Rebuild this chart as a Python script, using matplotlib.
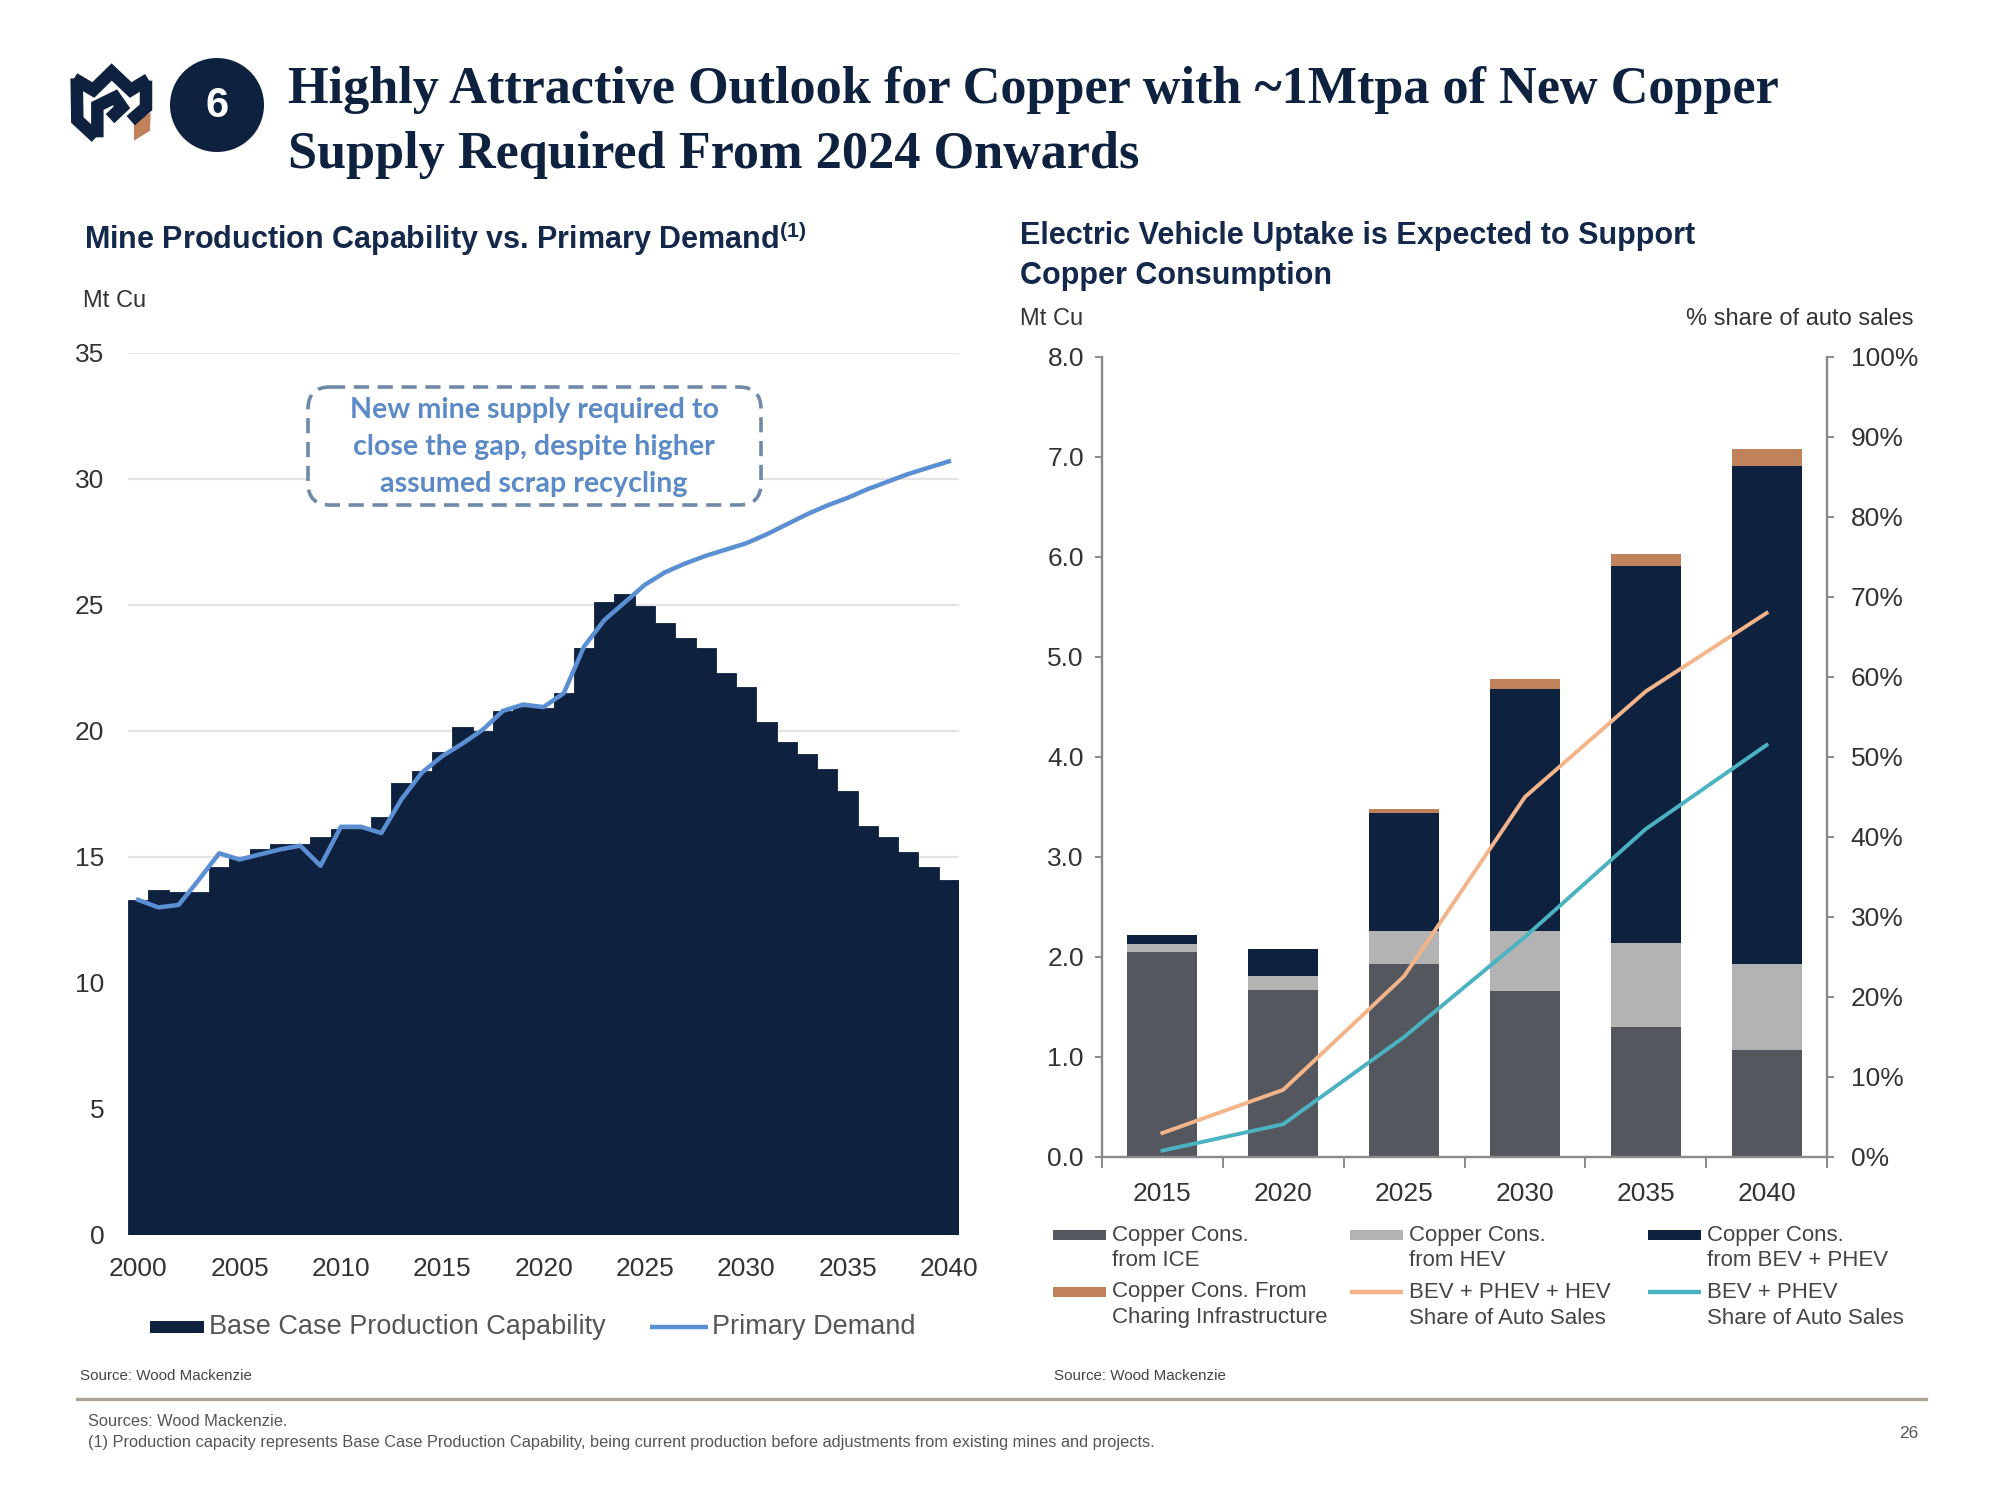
import numpy as np
import matplotlib
matplotlib.use("Agg")
import matplotlib.pyplot as plt
from matplotlib.patches import FancyBboxPatch, Rectangle, Circle, Polygon
from matplotlib.ticker import PercentFormatter, FixedLocator

plt.rcParams['font.family'] = ['Liberation Sans', 'DejaVu Sans']
plt.rcParams['mathtext.fontset'] = 'custom'
plt.rcParams['mathtext.rm'] = 'Liberation Sans'
plt.rcParams['mathtext.bf'] = 'Liberation Sans:bold'

# ---------------- data: left chart ----------------
years = list(range(2000, 2041))
capability = [13.3, 13.7, 13.6, 13.6, 14.6, 15.0, 15.3, 15.5, 15.5, 15.8,
              16.1, 16.1, 16.6, 17.95, 18.4, 19.15, 20.15, 20.0, 20.8, 20.95,
              20.9, 21.5, 23.3, 25.1, 25.45, 24.95, 24.3, 23.7, 23.3, 22.3,
              21.75, 20.35, 19.55, 19.1, 18.5, 17.6, 16.25, 15.8, 15.2, 14.6,
              14.1]
demand = [13.3, 13.0, 13.1, 14.1, 15.15, 14.9, 15.1, 15.3, 15.45, 14.65,
          16.2, 16.2, 15.95, 17.3, 18.35, 19.0, 19.5, 20.05, 20.8, 21.05,
          20.95, 21.5, 23.35, 24.4, 25.1, 25.8, 26.3, 26.65, 26.95, 27.2,
          27.45, 27.8, 28.2, 28.6, 28.95, 29.25, 29.6, 29.9, 30.2, 30.45,
          30.7]
left_yticks = [0, 5, 10, 15, 20, 25, 30, 35]
left_xticks = [2000, 2005, 2010, 2015, 2020, 2025, 2030, 2035, 2040]

# ---------------- data: right chart ----------------
ev_years = ['2015', '2020', '2025', '2030', '2035', '2040']
cons_ice = [2.05, 1.67, 1.93, 1.66, 1.30, 1.07]
cons_hev = [0.08, 0.14, 0.33, 0.60, 0.84, 0.86]
cons_bev = [0.09, 0.27, 1.18, 2.42, 3.77, 4.98]
cons_charging = [0.0, 0.0, 0.04, 0.10, 0.12, 0.17]
share_bev_phev_hev = [0.03, 0.084, 0.226, 0.45, 0.582, 0.68]
share_bev_phev = [0.008, 0.041, 0.15, 0.275, 0.41, 0.515]

NAVY = '#0e2240'
BLUE = '#5b8fd4'
DGREY = '#54585e'
LGREY = '#b3b3b3'
COPPER = '#c0825a'
PEACH = '#f3b48a'
TEAL = '#4bb2c2'
TXT = '#333333'
SPINE = '#8a8a8a'

fig = plt.figure(figsize=(20, 15), dpi=100)
fig.patch.set_facecolor('white')

def px2fig(x0, y0, x1, y1):
    return [x0 / 2000, 1 - y1 / 1500, (x1 - x0) / 2000, (y1 - y0) / 1500]

# ---------------- left chart ----------------
axL = fig.add_axes(px2fig(128, 353, 959, 1235))
axL.bar(years, capability, width=1.0, color=NAVY, edgecolor=NAVY,
        linewidth=0.6, zorder=2)
axL.plot(years, demand, color=BLUE, lw=3.2, zorder=3, solid_joinstyle='round')
axL.set_xlim(1999.5, 2040.5)
axL.set_ylim(0, 35)
axL.set_yticks(left_yticks)
axL.set_xticks(left_xticks)
axL.grid(axis='y', color='#e4e4e4', lw=1.6)
axL.set_axisbelow(True)
for s in axL.spines.values():
    s.set_visible(False)
axL.tick_params(axis='y', length=0, pad=17, labelsize=19, labelcolor=TXT)
axL.tick_params(axis='x', length=0, pad=16, labelsize=19, labelcolor=TXT)

# ---------------- right chart ----------------
axR = fig.add_axes(px2fig(1102, 357, 1827, 1157))
x = np.arange(len(ev_years))
w = 0.58
b1 = np.array(cons_ice)
b2 = b1 + np.array(cons_hev)
b3 = b2 + np.array(cons_bev)
axR.bar(x, cons_ice, w, color=DGREY, linewidth=0, zorder=2)
axR.bar(x, cons_hev, w, bottom=b1, color=LGREY, linewidth=0, zorder=2)
axR.bar(x, cons_bev, w, bottom=b2, color=NAVY, linewidth=0, zorder=2)
axR.bar(x, cons_charging, w, bottom=b3, color=COPPER, linewidth=0, zorder=2)
axR.set_xlim(-0.5, len(ev_years) - 0.5)
axR.set_ylim(0, 8)
axR.set_yticks(np.arange(0, 9, 1))
axR.yaxis.set_major_formatter(matplotlib.ticker.FormatStrFormatter('%.1f'))
axR.set_xticks(x)
axR.set_xticklabels(ev_years)
axR.xaxis.set_minor_locator(FixedLocator(np.arange(-0.5, len(ev_years), 1)))
axR.spines['top'].set_visible(False)
for s in ['left', 'right', 'bottom']:
    axR.spines[s].set_color(SPINE)
    axR.spines[s].set_linewidth(1.6)
axR.tick_params(axis='y', direction='out', length=5, width=1.4, color=SPINE,
                pad=8, labelsize=19, labelcolor=TXT)
axR.tick_params(axis='x', which='major', length=0, pad=18, labelsize=19,
                labelcolor=TXT)
axR.tick_params(axis='x', which='minor', direction='out', length=8, width=1.4,
                color=SPINE)

axR2 = axR.twinx()
axR2.plot(x, share_bev_phev_hev, color=PEACH, lw=2.8, zorder=3)
axR2.plot(x, share_bev_phev, color=TEAL, lw=2.8, zorder=3)
axR2.set_ylim(0, 1)
axR2.set_yticks(np.arange(0, 1.01, 0.1))
axR2.yaxis.set_major_formatter(PercentFormatter(1.0, decimals=0))
axR2.spines['top'].set_visible(False)
for s in ['left', 'right', 'bottom']:
    axR2.spines[s].set_color(SPINE)
    axR2.spines[s].set_linewidth(1.6)
axR2.tick_params(axis='y', direction='out', length=5, width=1.4, color=SPINE,
                 pad=12, labelsize=19, labelcolor=TXT)

# ---------------- overlay for decorations ----------------
ov = fig.add_axes([0, 0, 1, 1], zorder=10)
ov.set_xlim(0, 2000)
ov.set_ylim(1500, 0)
ov.axis('off')

# logo (decorative)
def lz(pts):
    return [(60 + a / 3.0, 50 + b / 3.0) for a, b in pts]

for pts in [
    [(50, 85), (52, 210), (108, 262)],
    [(42, 86), (100, 120), (155, 66), (212, 120), (265, 88)],
    [(258, 92), (258, 172), (212, 212)],
    [(112, 262), (112, 168), (165, 142), (186, 172), (150, 206)],
]:
    xs, ys = zip(*lz(pts))
    ov.plot(xs, ys, color=NAVY, lw=9, solid_capstyle='butt',
            solid_joinstyle='miter')
ov.add_patch(Polygon(lz([(222, 218), (272, 188), (270, 242), (222, 272)]),
                     closed=True, color=COPPER, lw=0))

ov.add_patch(Circle((217, 105), 47, color=NAVY, lw=0))
ov.text(217, 106, '6', ha='center', va='center', color='white',
        fontsize=30, fontweight='bold')

# title
title_kw = dict(fontsize=37.6, fontweight='bold', color=NAVY,
                family=['Liberation Serif', 'DejaVu Serif'])
ov.text(288, 103, 'Highly Attractive Outlook for Copper with ~1Mtpa of New Copper',
        va='baseline', ha='left', **title_kw)
ov.text(288, 168, 'Supply Required From 2024 Onwards',
        va='baseline', ha='left', **title_kw)

SUB = '#13284b'
ov.text(84, 238, r'Mine Production Capability vs. Primary Demand$^{\mathbf{(1)}}$',
        va='center', ha='left', fontsize=22, fontweight='bold', color=SUB)
ov.text(1020, 236, 'Electric Vehicle Uptake is Expected to Support',
        va='center', ha='left', fontsize=22, fontweight='bold', color=SUB)
ov.text(1020, 276, 'Copper Consumption',
        va='center', ha='left', fontsize=22, fontweight='bold', color=SUB)

ov.text(83, 301, 'Mt Cu', va='center', ha='left', fontsize=17, color=TXT)
ov.text(1020, 319, 'Mt Cu', va='center', ha='left', fontsize=17, color=TXT)
ov.text(1913, 319, '% share of auto sales', va='center', ha='right',
        fontsize=17, color=TXT)

# annotation box
box = FancyBboxPatch((308, 387), 453, 118,
                     boxstyle='round,pad=0,rounding_size=22',
                     facecolor='white', edgecolor='#7189a8', lw=2.6,
                     linestyle=(0, (4.2, 2.4)))
ov.add_patch(box)
for i, line in enumerate(['New mine supply required to',
                          'close the gap, despite higher',
                          'assumed scrap recycling']):
    ov.text(534, 410 + 37 * i, line, ha='center', va='center', fontsize=20.6,
            fontweight='bold', color='#5b8ac6', family=['Lato', 'DejaVu Sans'])

# left legend
ov.add_patch(Rectangle((150, 1321), 54, 12, color=NAVY, lw=0))
ov.text(209, 1327, 'Base Case Production Capability', va='center', ha='left',
        fontsize=19.5, color='#555555')
ov.plot([650, 708], [1327, 1327], color=BLUE, lw=3.2, solid_capstyle='butt')
ov.text(712, 1327, 'Primary Demand', va='center', ha='left',
        fontsize=19.5, color='#555555')

# right legend
LEG = '#444444'
leg_items = [
    ('rect', DGREY, 1053, 1235, 'Copper Cons.\nfrom ICE'),
    ('rect', LGREY, 1350, 1235, 'Copper Cons.\nfrom HEV'),
    ('rect', NAVY, 1648, 1235, 'Copper Cons.\nfrom BEV + PHEV'),
    ('rect', COPPER, 1053, 1292, 'Copper Cons. From\nCharing Infrastructure'),
    ('line', PEACH, 1350, 1292, 'BEV + PHEV + HEV\nShare of Auto Sales'),
    ('line', TEAL, 1648, 1292, 'BEV + PHEV\nShare of Auto Sales'),
]
for kind, col, lx, ly, lab in leg_items:
    if kind == 'rect':
        ov.add_patch(Rectangle((lx, ly - 5), 53, 10, color=col, lw=0))
    else:
        ov.plot([lx, lx + 53], [ly, ly], color=col, lw=3.2,
                solid_capstyle='butt')
    l1, l2 = lab.split('\n')
    ov.text(lx + 59, ly, l1, va='center', ha='left', fontsize=16, color=LEG)
    ov.text(lx + 59, ly + 26, l2, va='center', ha='left', fontsize=16, color=LEG)

# sources / footer
ov.text(80, 1376, 'Source: Wood Mackenzie', va='center', ha='left',
        fontsize=10.9, color='#444444')
ov.text(1054, 1376, 'Source: Wood Mackenzie', va='center', ha='left',
        fontsize=10.9, color='#444444')
ov.plot([77, 1926], [1399, 1399], color='#aca597', lw=2.4)
ov.text(88, 1422, 'Sources: Wood Mackenzie.', va='center', ha='left',
        fontsize=11.8, color='#555555')
ov.text(88, 1443, '(1) Production capacity represents Base Case Production '
        'Capability, being current production before adjustments from '
        'existing mines and projects.', va='center', ha='left',
        fontsize=11.8, color='#555555')
ov.text(1918, 1434, '26', va='center', ha='right', fontsize=12.5,
        color='#555555')

fig.savefig('out.png', dpi=100, facecolor='white')
